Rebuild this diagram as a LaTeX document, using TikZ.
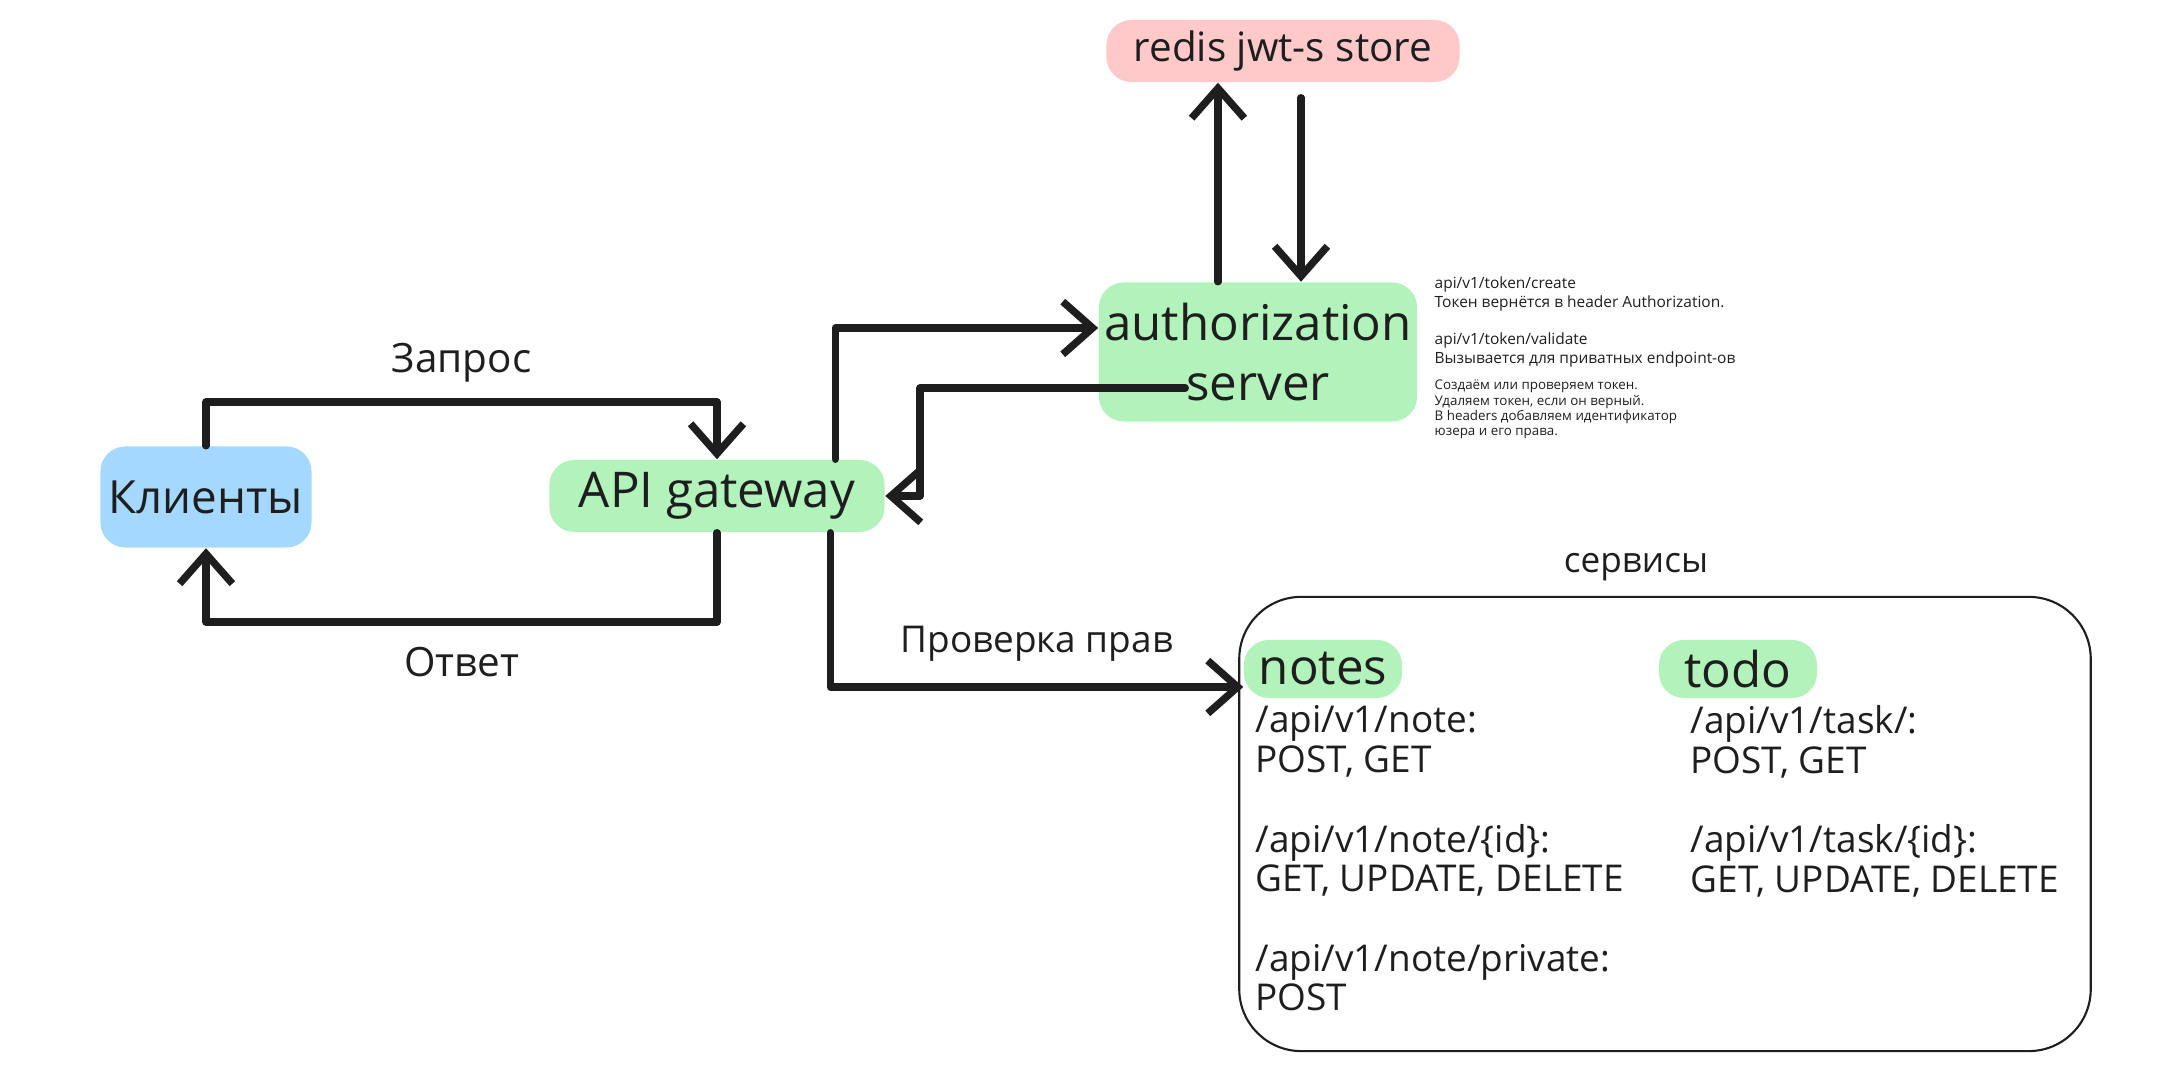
\documentclass[tikz,border=0pt]{standalone}
\usepackage{fontspec}
\setmainfont{Open Sans}
\usetikzlibrary{positioning,arrows.meta}

\definecolor{ink}{HTML}{1E1E1E}
\definecolor{mint}{HTML}{B2F2BB}
\definecolor{rose}{HTML}{FFC9C9}
\definecolor{sky}{HTML}{A5D8FF}

\begin{document}
\begin{tikzpicture}[x=0.01cm,y=-0.01cm,>={Straight Barb[length=8.5pt,width=15pt]},
  line cap=round,line join=round,
  blob/.style={rounded corners=0.25cm,inner sep=0pt,align=center,text=ink,
    font=\fontsize{14}{17}\selectfont},
  flow/.style={->,draw=ink,line width=2.1pt},
  lbl/.style={text=ink,font=\fontsize{11.5}{14}\selectfont},
  api/.style={text=ink,align=left,anchor=north west,inner sep=0pt,
    font=\fontsize{10.5}{11.3}\selectfont},
  note/.style={text=ink,align=left,anchor=north west,inner sep=0pt}]
  \useasboundingbox (0,0) rectangle (2168,1080);

  % blobs
  \node[blob,fill=sky,minimum width=2.11cm,minimum height=1.01cm,
    font=\fontsize{13}{16}\selectfont] (clients) at (206,497) {Клиенты};
  \node[blob,fill=mint,minimum width=3.35cm,minimum height=0.72cm] (gw) at (717,496) {API gateway};
  \node[blob,fill=mint,minimum width=3.18cm,minimum height=1.39cm] (auth) at (1258,352) {authorization\\server};
  \node[blob,fill=rose,minimum width=3.53cm,minimum height=0.62cm,
    font=\fontsize{11.5}{14}\selectfont] (redis) at (1283,51) {redis jwt-s store};

  % services
  \node[draw=ink,line width=0.6pt,rounded corners=0.62cm,minimum width=8.51cm,
    minimum height=4.54cm] (svc) at (1665,824) {};
  \node[lbl,font=\fontsize{10}{12}\selectfont] (svctitle) at (1636,567) {сервисы};
  \node[blob,fill=mint,minimum width=1.58cm,minimum height=0.58cm] (notes) at (1323,669) {notes};
  \node[blob,fill=mint,minimum width=1.58cm,minimum height=0.58cm] (todo) at (1738,669) {todo};
  \node[api] (noteapi) at (1255,705) {/api/v1/note:\\POST, GET\\[11.3pt]/api/v1/note/\{id\}:\\GET, UPDATE, DELETE\\[11.3pt]/api/v1/note/private:\\POST};
  \node[api] (taskapi) at (1690,705) {/api/v1/task/:\\POST, GET\\[11.3pt]/api/v1/task/\{id\}:\\GET, UPDATE, DELETE};

  % token notes
  \node[note,font=\fontsize{4.4}{5.3}\selectfont] (tokennote) at (1434,276)
    {api/v1/token/create\\Токен вернётся в header Authorization.\\[5.3pt]api/v1/token/validate\\Вызывается для приватных endpoint-ов};
  \node[note,font=\fontsize{3.8}{4.35}\selectfont,below right=0.12cm and 0cm of tokennote.south west] (authnote)
    {Создаём или проверяем токен.\\Удаляем токен, если он верный.\\В headers добавляем идентификатор\\юзера и его права.};

  % connectors
  \coordinate (reqline) at (0,402);
  \coordinate (respline) at (0,622);
  \coordinate (retx) at (920,0);
  \coordinate (gwup) at ([xshift=-0.5cm]gw.north east);
  \coordinate (gwdown) at ([xshift=-0.55cm]gw.south east);
  \coordinate (authin) at ([yshift=0.24cm]auth.west);
  \coordinate (authout) at ([xshift=0.87cm,yshift=-0.36cm]auth.west);
  \coordinate (notesin) at ([yshift=-0.18cm]notes.west);
  \coordinate (redisup) at ([xshift=-0.4cm]auth.north);
  \coordinate (redisdown) at ([xshift=0.43cm]auth.north);

  \draw[flow] (clients.north) -- (clients.north |- reqline)
    -- node[lbl,above=0.04cm] {Запрос} (gw.north |- reqline) -- (gw.north);
  \draw[flow] (gw.south) -- (gw.south |- respline)
    -- node[lbl,below=0.1cm] {Ответ} (clients.south |- respline) -- (clients.south);
  \draw[flow] (gwup) |- (authin);
  \draw[flow] (authout) -- (authout -| retx) |- (gw.east);
  \draw[flow] (gwdown) |- node[lbl,pos=0.75,above=0.1cm,font=\fontsize{10.5}{13}\selectfont]
    {Проверка прав} (notesin);
  \draw[flow] (redisup) -- (redisup |- redis.south);
  \draw[flow,shorten <=0.15cm] (redisdown |- redis.south) -- (redisdown);
\end{tikzpicture}
\end{document}
